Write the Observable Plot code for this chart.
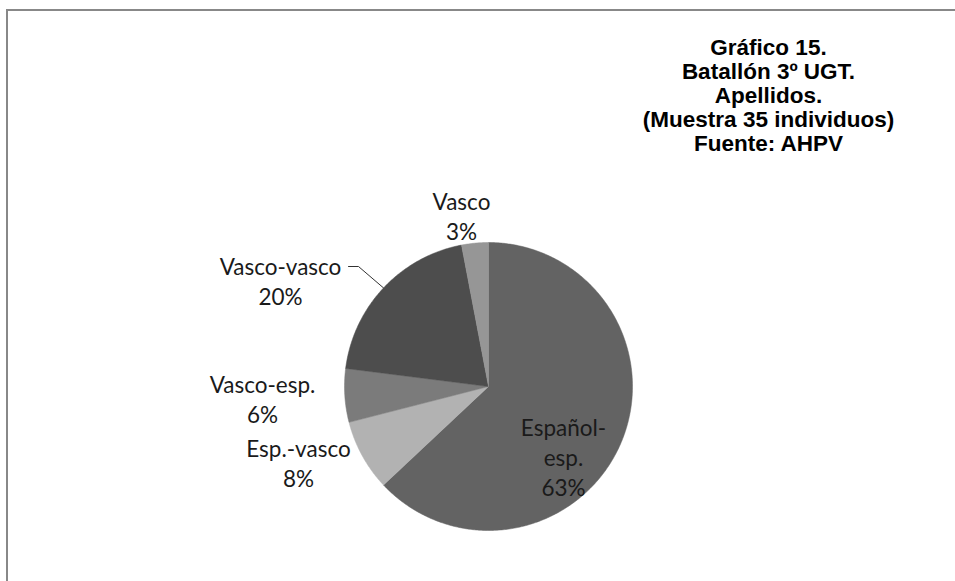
<!DOCTYPE html>
<html>
<head>
<meta charset="utf-8">
<script src="https://cdn.jsdelivr.net/npm/d3@7"></script>
<script src="https://cdn.jsdelivr.net/npm/@observablehq/plot@0.6"></script>
<style>
  html, body { margin: 0; padding: 0; background: #fff; }
  #wrap { position: relative; width: 955px; height: 581px; overflow: hidden; }
  #frame { position: absolute; left: 6px; top: 9px; width: 1000px; height: 1000px;
           border-top: 2px solid #888; border-left: 2px solid #888; pointer-events: none; }
</style>
</head>
<body>
<div id="wrap"><div id="frame"></div></div>
<script>
// ---- data ----
const categories = ["Español-esp.", "Esp.-vasco", "Vasco-esp.", "Vasco-vasco", "Vasco"];
const percents = [63, 8, 6, 20, 3];
const labelTexts = ["Español-\nesp.", "Esp.-vasco", "Vasco-esp.", "Vasco-vasco", "Vasco"];
const colors = ["#636363", "#b2b2b2", "#7b7b7b", "#4d4d4d", "#969696"];
const titleLines = ["Gráfico 15.", "Batallón 3º UGT.", "Apellidos.", "(Muestra 35 individuos)", "Fuente: AHPV"];

// ---- layout ----
const W = 955, H = 581;
const cx = 488, cy = 386, R = 144;
const labelPos = [
  {x: 563, y: 456},
  {x: 298, y: 462},
  {x: 262, y: 398},
  {x: 280, y: 280},
  {x: 461, y: 215}
];
const leader = {index: 3, x0: 348, y0: 266, x1: 358};

const pie = d3.pie().sort(null).value(d => d.value)
  .startAngle(0).endAngle(2 * Math.PI);
const arcs = pie(categories.map((c, i) => ({name: c, value: percents[i], color: colors[i]})));

const polyPts = [];
arcs.forEach(a => {
  const n = Math.max(4, Math.ceil((a.endAngle - a.startAngle) / 0.01));
  polyPts.push({k: a.data.name, color: a.data.color, x: cx, y: cy});
  for (let j = 0; j <= n; j++) {
    const t = a.startAngle + (a.endAngle - a.startAngle) * j / n;
    polyPts.push({k: a.data.name, color: a.data.color, x: cx + R * Math.sin(t), y: cy - R * Math.cos(t)});
  }
  polyPts.push({k: a.data.name, color: a.data.color, x: cx, y: cy});
});

const labels = arcs.map((a, i) => ({
  text: labelTexts[i] + "\n" + a.data.value + "%",
  x: labelPos[i].x, y: labelPos[i].y
}));

const la = arcs[leader.index];
const mid = (la.startAngle + la.endAngle) / 2;
const leaderPts = [
  {x: leader.x0, y: leader.y0},
  {x: leader.x1, y: leader.y0},
  {x: cx + R * Math.sin(mid), y: cy - R * Math.cos(mid)}
];

const titleData = titleLines.map((t, i) => ({t, i}));

const chart = Plot.plot({
  width: W, height: H,
  margin: 0,
  x: {domain: [0, W], range: [0, W], axis: null},
  y: {domain: [0, H], range: [0, H], axis: null},
  style: {background: "transparent", overflow: "visible"},
  marks: [
    Plot.line(polyPts, {x: "x", y: "y", z: "k", fill: "color", stroke: "color", strokeWidth: 0.5, curve: "linear"}),
    Plot.line(leaderPts, {x: "x", y: "y", stroke: "#333", strokeWidth: 1}),
    Plot.text(labels, {x: "x", y: "y", text: "text", fontSize: 22.5, lineHeight: 1.34,
      fontFamily: "Lato, 'Open Sans', sans-serif", fill: "#1a1a1a", textAnchor: "middle", lineAnchor: "middle"}),
    Plot.text(titleData, {x: () => 768, y: d => 47 + d.i * 24, text: "t", fontSize: 22.5, fontWeight: "bold",
      fontFamily: "'Liberation Sans', Arial, sans-serif", fill: "#000", textAnchor: "middle", lineAnchor: "middle"})
  ]
});
chart.style.position = "absolute";
chart.style.left = "0px";
chart.style.top = "0px";
document.getElementById("wrap").prepend(chart);
</script>
</body>
</html>
